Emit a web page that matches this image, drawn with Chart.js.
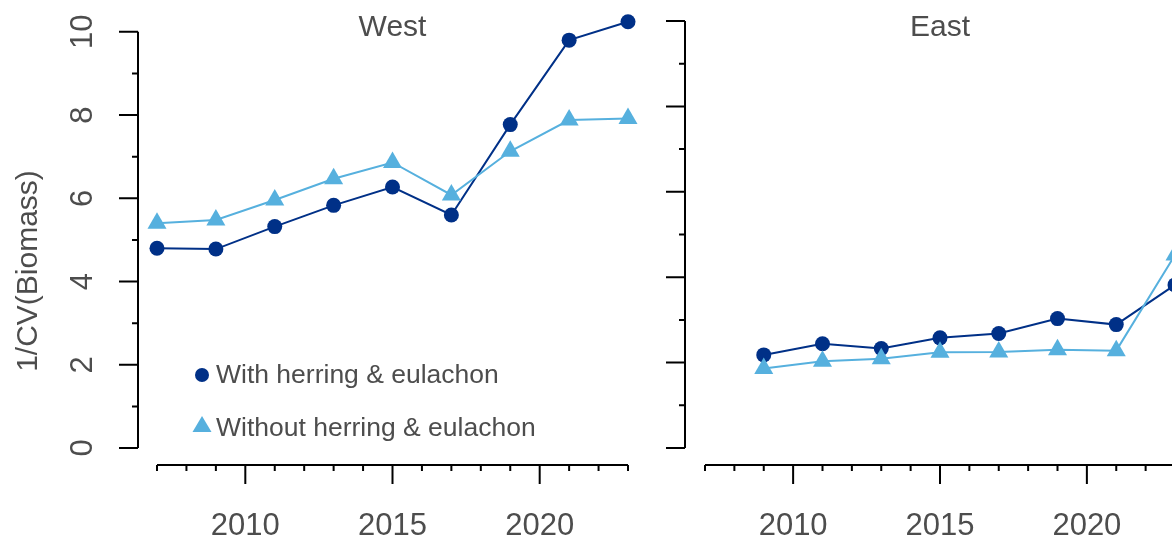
<!DOCTYPE html>
<html lang="en">
<head>
<meta charset="UTF-8">
<title>1/CV(Biomass) West and East</title>
<script src="https://cdn.jsdelivr.net/npm/chart.js@4.4.1/dist/chart.umd.min.js"></script>
<style>
  html, body { margin: 0; padding: 0; background: #fff; overflow: hidden; }
  body { width: 1172px; height: 537px; position: relative; }
  canvas { position: absolute; top: 0; }
  #west { left: 0; }
  #east { left: 640px; }
</style>
</head>
<body>
<canvas id="west" width="660" height="537"></canvas>
<canvas id="east" width="600" height="537"></canvas>
<script>
// values
const westYears = [2007, 2009, 2011, 2013, 2015, 2017, 2019, 2021, 2023];
const westWith = [4.80, 4.78, 5.32, 5.83, 6.27, 5.60, 7.77, 9.80, 10.24];
const westWithout = [5.40, 5.48, 5.96, 6.47, 6.86, 6.08, 7.13, 7.88, 7.92];

const eastYears = [2009, 2011, 2013, 2015, 2017, 2019, 2021, 2023];
const eastWith = [2.18, 2.44, 2.33, 2.58, 2.68, 3.03, 2.89, 3.82];
const eastWithout = [1.86, 2.03, 2.09, 2.24, 2.25, 2.30, 2.28, 4.52];

const seriesNames = ['With herring & eulachon', 'Without herring & eulachon'];
const panelTitles = ['West', 'East'];
const yTitle = '1/CV(Biomass)';

const yMajorTicks = [0, 2, 4, 6, 8, 10];
const yMinorTicks = [1, 3, 5, 7, 9];
const xMajorTicks = [2010, 2015, 2020];
const xMinorTicks = [2007, 2008, 2009, 2011, 2012, 2013, 2014, 2016, 2017, 2018, 2019, 2021, 2022, 2023];

const navy = '#003087';
const sky = '#56b0de';
const textColour = '#4d4d4d';
const font = '"Liberation Sans", Arial, Helvetica, sans-serif';

function toPoints(xs, ys) {
  return xs.map((x, i) => ({ x: x, y: ys[i] }));
}

// base-graphics style axes: detached from the plot, ticks pointing out
function rAxes(opts) {
  return {
    id: 'rAxes',
    afterDraw(chart) {
      const ctx = chart.ctx;
      const area = chart.chartArea;
      const xs = chart.scales.x;
      const ys = chart.scales.y;
      ctx.save();
      ctx.strokeStyle = '#000';
      ctx.lineWidth = 2;
      ctx.lineCap = 'butt';

      // y axis
      const ax = area.left - opts.yGap;
      ctx.beginPath();
      ctx.moveTo(ax, ys.getPixelForValue(0));
      ctx.lineTo(ax, ys.getPixelForValue(10));
      yMajorTicks.forEach(v => {
        const p = ys.getPixelForValue(v);
        ctx.moveTo(ax, p);
        ctx.lineTo(ax - 19, p);
      });
      yMinorTicks.forEach(v => {
        const p = ys.getPixelForValue(v);
        ctx.moveTo(ax, p);
        ctx.lineTo(ax - 6, p);
      });
      ctx.stroke();

      // x axis
      const ay = area.bottom + 17;
      ctx.beginPath();
      ctx.moveTo(xs.getPixelForValue(2007), ay);
      ctx.lineTo(xs.getPixelForValue(2023), ay);
      xMajorTicks.forEach(v => {
        const p = xs.getPixelForValue(v);
        ctx.moveTo(p, ay);
        ctx.lineTo(p, ay + 19);
      });
      xMinorTicks.forEach(v => {
        const p = xs.getPixelForValue(v);
        ctx.moveTo(p, ay);
        ctx.lineTo(p, ay + 6);
      });
      ctx.stroke();

      ctx.fillStyle = textColour;
      ctx.font = '31px ' + font;
      ctx.textAlign = 'center';
      ctx.textBaseline = 'alphabetic';
      xMajorTicks.forEach(v => {
        ctx.fillText(String(v), xs.getPixelForValue(v), ay + 70);
      });

      if (opts.yLabels) {
        yMajorTicks.forEach(v => {
          ctx.save();
          ctx.translate(ax - 46, ys.getPixelForValue(v));
          ctx.rotate(-Math.PI / 2);
          ctx.fillText(String(v), 0, 0);
          ctx.restore();
        });
        ctx.save();
        ctx.font = '30px ' + font;
        ctx.translate(37, 271);
        ctx.rotate(-Math.PI / 2);
        ctx.fillText(yTitle, 0, 0);
        ctx.restore();
      }

      // panel title
      ctx.font = '30px ' + font;
      ctx.fillText(opts.title, (xs.getPixelForValue(2007) + xs.getPixelForValue(2023)) / 2, 36);

      if (opts.legend) {
        ctx.font = '26.5px ' + font;
        ctx.textAlign = 'left';
        ctx.textBaseline = 'middle';
        ctx.fillStyle = navy;
        ctx.beginPath();
        ctx.arc(202, 375, 7, 0, Math.PI * 2);
        ctx.fill();
        ctx.fillStyle = sky;
        ctx.beginPath();
        ctx.moveTo(202, 416);
        ctx.lineTo(211.5, 432);
        ctx.lineTo(192.5, 432);
        ctx.closePath();
        ctx.fill();
        ctx.fillStyle = textColour;
        ctx.fillText(seriesNames[0], 216, 376);
        ctx.fillText(seriesNames[1], 216, 429);
      }
      ctx.restore();
    }
  };
}

function makePanel(id, years, withVals, withoutVals, pad, yMax, opts) {
  return new Chart(document.getElementById(id), {
    type: 'line',
    data: {
      datasets: [
        {
          label: seriesNames[0],
          data: toPoints(years, withVals),
          borderColor: navy,
          backgroundColor: navy,
          borderWidth: 2,
          pointStyle: 'circle',
          pointRadius: 7.5,
          pointBorderWidth: 0,
          clip: false,
          order: 2
        },
        {
          label: seriesNames[1],
          data: toPoints(years, withoutVals),
          borderColor: sky,
          backgroundColor: sky,
          borderWidth: 2,
          pointStyle: 'triangle',
          pointRadius: 11,
          pointBorderWidth: 0,
          clip: false,
          order: 1
        }
      ]
    },
    options: {
      responsive: false,
      animation: false,
      devicePixelRatio: 1,
      layout: { padding: pad },
      plugins: { legend: { display: false }, tooltip: { enabled: false } },
      scales: {
        x: { type: 'linear', min: 2007, max: 2023, display: false },
        y: { type: 'linear', min: 0, max: yMax, display: false }
      }
    },
    plugins: [rAxes(opts)]
  });
}

// West: 0 at y=448, 10 at y=31 (41.7 px per unit); top stretched to 10.5
makePanel('west', westYears, westWith, westWithout,
  { left: 157, right: 32, top: 10.15, bottom: 89 }, 10.5,
  { title: panelTitles[0], yGap: 19, yLabels: true, legend: true });

// East: 0 at y=448, 10 at y=21; 2023 sits just past the window edge
makePanel('east', eastYears, eastWith, eastWithout,
  { left: 65, right: 65, top: 21, bottom: 89 }, 10,
  { title: panelTitles[1], yGap: 20, yLabels: false, legend: false });
</script>
</body>
</html>
